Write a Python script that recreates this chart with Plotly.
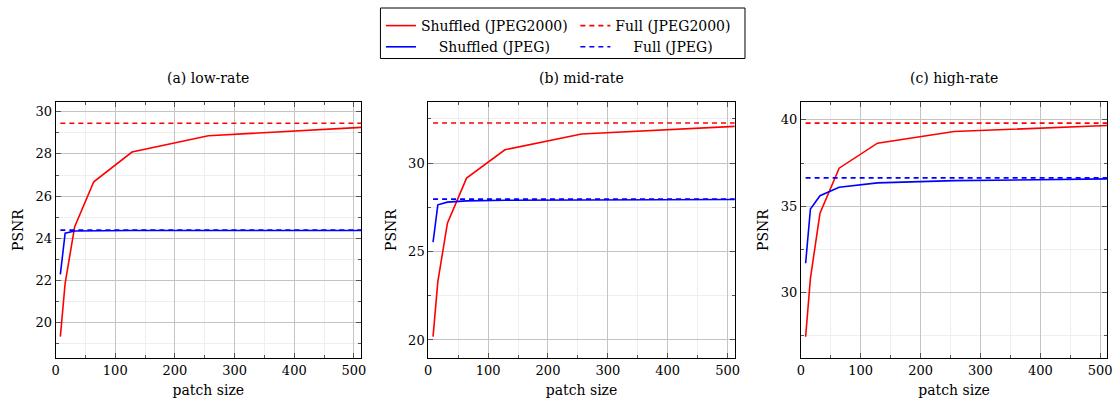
import plotly.graph_objects as go

# PSNR against patch size for three bit-rate regimes
patch_sizes = [8, 16, 32, 64, 128, 256, 512]

low_shuffled_j2k = [19.34, 21.87, 24.55, 26.68, 28.09, 28.86, 29.26]
low_shuffled_jpeg = [22.29, 24.24, 24.35, 24.36, 24.37, 24.37, 24.37]
low_full_j2k = 29.45
low_full_jpeg = 24.39

mid_shuffled_j2k = [20.19, 23.30, 26.60, 29.15, 30.75, 31.64, 32.07]
mid_shuffled_jpeg = [25.53, 27.64, 27.79, 27.86, 27.90, 27.92, 27.94]
mid_full_j2k = 32.26
mid_full_jpeg = 27.96

high_shuffled_j2k = [27.45, 30.83, 34.60, 37.20, 38.65, 39.32, 39.67]
high_shuffled_jpeg = [31.70, 34.84, 35.61, 36.10, 36.35, 36.48, 36.58]
high_full_j2k = 39.81
high_full_jpeg = 36.64

panel_titles = ["(a) low-rate", "(b) mid-rate", "(c) high-rate"]
x_label = "patch size"
y_label = "PSNR"

W, H = 1119, 401
FONT = "DejaVu Serif"
RED, BLUE = "#ff0000", "#0000ff"
DASH = "5px,4px"

# panel boxes in pixels: (left, right), shared top/bottom
panel_px = [(52, 360), (427.7, 736.7), (803.3, 1112.3)]
top_px, bottom_px = 102, 358
y_ranges = [[18.33, 30.46], [18.98, 33.45], [26.22, 41.03]]
y_dticks = [2, 5, 5]
y_minor = [1, 2.5, 2.5]

panels = [
    (low_shuffled_j2k, low_shuffled_jpeg, low_full_j2k, low_full_jpeg),
    (mid_shuffled_j2k, mid_shuffled_jpeg, mid_full_j2k, mid_full_jpeg),
    (high_shuffled_j2k, high_shuffled_jpeg, high_full_j2k, high_full_jpeg),
]

fig = go.Figure()


def px_x(v):
    return v / W


def px_y(v):
    return 1 - v / H


for i, (sj2k, sjpg, fj2k, fjpg) in enumerate(panels):
    xa = "x" if i == 0 else f"x{i + 1}"
    ya = "y" if i == 0 else f"y{i + 1}"
    first = i == 0
    x_full = [patch_sizes[0], patch_sizes[-1]]
    fig.add_trace(go.Scatter(
        x=patch_sizes, y=sj2k, mode="lines", xaxis=xa, yaxis=ya,
        line=dict(color=RED, width=1.6),
        name="Shuffled (JPEG2000)", showlegend=first, legend="legend"))
    fig.add_trace(go.Scatter(
        x=x_full, y=[fj2k, fj2k], mode="lines", xaxis=xa, yaxis=ya,
        line=dict(color=RED, width=1.6, dash=DASH),
        name="Full (JPEG2000)", showlegend=first, legend="legend2"))
    fig.add_trace(go.Scatter(
        x=patch_sizes, y=sjpg, mode="lines", xaxis=xa, yaxis=ya,
        line=dict(color=BLUE, width=1.6),
        name="\u00a0\u00a0\u00a0\u00a0Shuffled (JPEG)", showlegend=first, legend="legend"))
    fig.add_trace(go.Scatter(
        x=x_full, y=[fjpg, fjpg], mode="lines", xaxis=xa, yaxis=ya,
        line=dict(color=BLUE, width=1.6, dash=DASH),
        name="\u00a0\u00a0\u00a0\u00a0Full (JPEG)", showlegend=first, legend="legend2"))

axis_common = dict(
    showline=True, linecolor="black", linewidth=1, mirror="allticks",
    ticks="inside", ticklen=5, tickcolor="#555555", tickwidth=1,
    showgrid=True, gridcolor="#c4c4c4", gridwidth=1, zeroline=False,
    tickfont=dict(family=FONT, size=13, color="black"),
)

layout = dict(
    width=W, height=H, margin=dict(l=0, r=0, t=0, b=0),
    paper_bgcolor="white", plot_bgcolor="white",
    font=dict(family=FONT, size=14, color="black"),
    showlegend=True,
    annotations=[], shapes=[],
)

for i, ((l, r), yr) in enumerate(zip(panel_px, y_ranges)):
    sfx = "" if i == 0 else str(i + 1)
    layout["xaxis" + sfx] = dict(
        axis_common, domain=[px_x(l), px_x(r)], range=[0, 512],
        anchor="y" + sfx, tick0=0, dtick=100,
        minor=dict(dtick=50, ticks="inside", ticklen=3, tickcolor="#555555",
                   showgrid=True, gridcolor="#efefef"),
        title=dict(text=x_label, font=dict(family=FONT, size=14), standoff=8),
    )
    layout["yaxis" + sfx] = dict(
        axis_common, domain=[px_y(bottom_px), px_y(top_px)], range=yr,
        anchor="x" + sfx, tick0=0, dtick=y_dticks[i],
        minor=dict(dtick=y_minor[i], ticks="inside", ticklen=3, tickcolor="#555555",
                   showgrid=True, gridcolor="#efefef"),
        title=dict(text=y_label, font=dict(family=FONT, size=14), standoff=8),
    )
    layout["annotations"].append(dict(
        text=panel_titles[i], xref="paper", yref="paper",
        x=px_x((l + r) / 2), y=px_y(78), xanchor="center", yanchor="middle",
        showarrow=False, font=dict(family=FONT, size=14, color="black")))

legend_common = dict(
    orientation="v", xanchor="left", yanchor="top", bgcolor="rgba(0,0,0,0)",
    borderwidth=0, font=dict(family=FONT, size=14, color="black"),
    tracegroupgap=0, itemwidth=30,
)
layout["legend"] = dict(legend_common, x=px_x(380), y=px_y(10))
layout["legend2"] = dict(legend_common, x=px_x(576), y=px_y(10))

# frame around the two legend columns
layout["shapes"].append(dict(
    type="rect", xref="paper", yref="paper",
    x0=px_x(379.5), x1=px_x(747), y0=px_y(58.5), y1=px_y(8),
    line=dict(color="black", width=1), fillcolor="rgba(0,0,0,0)"))

fig.update_layout(**layout)
fig.write_html("out.html")
